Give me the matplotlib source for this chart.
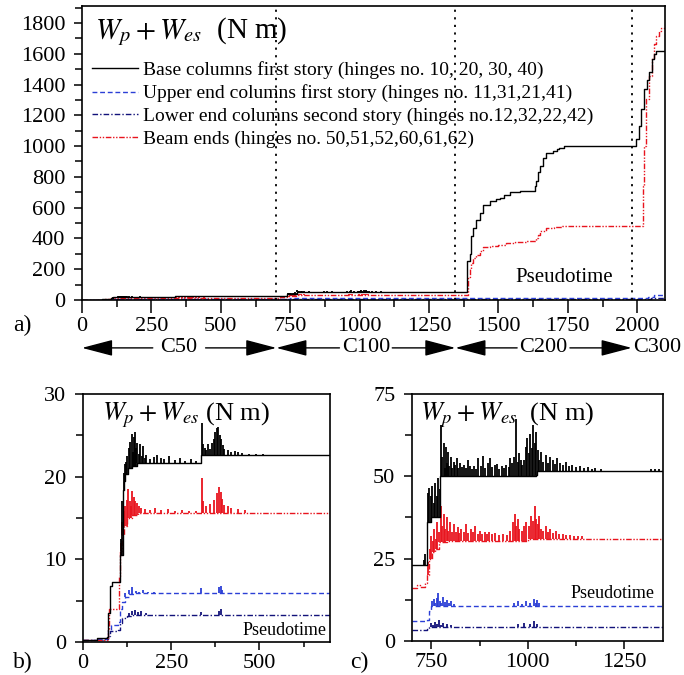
import numpy as np
import matplotlib.pyplot as plt
from matplotlib.ticker import MultipleLocator

plt.rcParams['font.family'] = ['Liberation Serif', 'DejaVu Serif']
plt.rcParams['mathtext.fontset'] = 'stix'

# ---------------- data ----------------
labels = ['Base columns first story (hinges no. 10, 20, 30, 40)',
          'Upper end columns first story (hinges no. 11,31,21,41)',
          'Lower end columns second story (hinges no.12,32,22,42)',
          'Beam ends (hinges no. 50,51,52,60,61,62)']

phase_edges = [0, 700, 1345, 1980]
phase_names = ['C50', 'C100', 'C200', 'C300']

# C50 part (panel b), steps (t, value) and spikes (t, peak)
base_b = [(0, 0.3), (40, 0.5), (68, 0.6), (72, 3.5), (76, 6.8), (82, 7.3), (104, 10.5),
          (113, 18.4), (117, 19.5), (120, 20.3), (128, 21.0), (140, 21.3), (153, 21.7),
          (335, 22.6), (700, 22.6)]
base_b_spk = [(108, 12.5), (112, 17), (115, 20.5), (118, 21.5), (122, 21.8), (126, 22.5),
              (130, 23.5), (134, 24.2), (138, 25.2), (141, 23), (144, 24.8), (147, 25.4),
              (150, 23.5), (154, 24.1), (158, 22.8), (162, 23.9), (166, 22.5), (170, 23.7),
              (175, 22.2), (180, 22.6), (190, 22.1), (200, 22.4), (210, 22.6), (220, 22.3),
              (230, 22.1), (245, 22.5), (260, 22.0), (275, 22.2), (290, 21.9), (305, 22.1),
              (320, 21.9), (336, 26.5), (340, 24.0), (345, 23.5), (350, 23.2), (355, 23.9),
              (360, 23.4), (365, 24.1), (370, 24.5), (375, 25.4), (380, 25.9), (384, 26.0),
              (388, 25.1), (392, 24.5), (396, 23.8), (400, 23.4), (410, 23.2), (420, 23.0),
              (430, 23.1), (440, 23.0), (450, 22.9), (470, 22.8), (490, 22.8), (510, 22.7)]
upper_b = [(0, 0.2), (40, 0.4), (65, 0.5), (72, 1.5), (80, 2.0), (100, 2.4), (104, 4.0),
           (110, 4.8), (120, 5.4), (130, 5.8), (145, 5.9), (700, 5.9)]
upper_b_spk = [(120, 5.9), (130, 6.3), (140, 6.6), (150, 6.2), (160, 6.1), (170, 6.3),
               (185, 6.1), (200, 6.0), (335, 6.5), (385, 6.6), (390, 6.8), (395, 6.3)]
lower_b = [(0, 0.3), (60, 0.4), (70, 0.7), (78, 1.3), (100, 1.5), (105, 2.3), (112, 2.9),
           (125, 3.1), (140, 3.3), (700, 3.3)]
lower_b_spk = [(130, 3.5), (140, 3.8), (148, 3.9), (155, 3.6), (165, 3.7), (180, 3.5),
               (335, 3.6), (385, 3.8), (390, 4.0)]
beam_b = [(0, 0.2), (60, 0.3), (70, 1.5), (74, 4.0), (100, 4.0), (103, 8), (106, 11),
          (110, 13), (115, 14), (125, 15), (140, 15.4), (155, 15.6), (700, 15.6)]
beam_b_spk = [(107, 12), (112, 14.5), (116, 15.8), (120, 16.5), (124, 17.2), (128, 18.5),
              (132, 17.0), (136, 16.5), (140, 18.3), (144, 17.6), (148, 17), (152, 16.8),
              (158, 16.5), (165, 16.2), (175, 16.1), (190, 16.0), (205, 16.2), (220, 16.0),
              (240, 16.1), (260, 15.9), (280, 16.0), (300, 15.9), (320, 15.8), (336, 19.8),
              (340, 17.0), (350, 16.4), (360, 16.7), (370, 17.2), (380, 18.0), (385, 18.7),
              (390, 18.2), (395, 17.3), (400, 16.6), (410, 16.4), (420, 16.2), (440, 16.1),
              (460, 16.0)]

# C100 part (panel c)
base_c = [(700, 23.0), (738, 36), (750, 37.5), (773, 50.0), (1020, 50.3), (1025, 51.5),
          (1350, 51.8)]
base_c_spk = [(730, 24.5), (735, 26.5), (742, 45), (745, 46.5), (748, 44), (752, 47.2),
              (756, 42), (760, 48), (764, 44), (768, 49.5), (772, 46), (776, 65.5), (779, 56),
              (782, 60), (785, 52.5), (788, 59), (791, 54), (794, 57.5), (797, 53), (800, 56),
              (804, 52.5), (808, 54.5), (812, 53.5), (816, 55.5), (820, 52.5), (825, 54),
              (830, 52.8), (835, 53.5), (840, 52.5), (845, 55), (850, 53), (855, 52.3),
              (860, 53.2), (866, 52.2), (872, 55.5), (878, 53), (884, 56.3), (890, 52.5),
              (896, 54), (902, 55.5), (908, 52.8), (914, 53.5), (920, 53.8), (926, 52.3),
              (932, 53), (938, 52.5), (944, 53.4), (950, 52.8), (955, 55.5), (960, 54),
              (965, 56), (970, 67.3), (974, 54.5), (978, 57), (982, 55), (986, 53.5),
              (990, 55), (994, 59), (998, 61.5), (1002, 57), (1006, 63), (1010, 58.5),
              (1014, 65.5), (1018, 60), (1022, 63.5), (1026, 58), (1030, 55), (1034, 57.5),
              (1040, 54.5), (1046, 56.5), (1052, 54), (1058, 56), (1064, 55), (1070, 53.8),
              (1076, 55.5), (1082, 54), (1090, 53.3), (1098, 54.5), (1106, 53), (1115, 53.5),
              (1125, 52.8), (1135, 53), (1145, 52.5), (1155, 52.8), (1165, 52.3), (1175, 52.5),
              (1190, 52.1), (1320, 52.3), (1330, 52.2), (1340, 52.3)]
upper_c = [(700, 6.0), (740, 6.5), (745, 9), (750, 10.5), (1350, 10.3)]
upper_c_spk = [(752, 12), (756, 12.8), (760, 11.5), (764, 13), (768, 14.5), (772, 12.2),
               (776, 11.5), (780, 13.3), (785, 11.8), (790, 12.5), (795, 11.5), (800, 12),
               (808, 11.2), (965, 11.5), (975, 12.2), (985, 11.3), (995, 12), (1005, 11.5),
               (1015, 12.8), (1020, 11.6), (1025, 12.3), (1030, 11.4)]
lower_c = [(700, 3.3), (740, 3.5), (745, 4.2), (1350, 4.2)]
lower_c_spk = [(750, 5.5), (755, 4.8), (760, 5.8), (765, 5.2), (770, 6.3), (775, 5.0),
               (780, 5.6), (790, 5.2), (800, 5.0), (975, 5.2), (990, 5.4), (1005, 5.3),
               (1015, 6.0), (1025, 5.3)]
beam_c = [(700, 16.0), (713, 17.0), (720, 16.5), (735, 17.5), (740, 20), (745, 25), (752, 27),
          (760, 28), (770, 30), (790, 30.5), (1000, 31), (1350, 31.2)]
beam_c_spk = [(742, 24), (746, 28), (750, 32), (754, 30.5), (758, 34), (762, 31), (766, 36),
              (770, 33), (774, 41), (778, 35), (782, 38.5), (786, 34), (790, 37.5), (794, 33.5),
              (798, 36), (803, 33), (808, 35.5), (813, 33), (818, 34.5), (823, 32.8), (828, 34),
              (834, 33), (840, 35.5), (846, 32.8), (852, 34), (858, 33), (864, 34.8),
              (870, 32.6), (876, 33.5), (882, 32.5), (888, 33.2), (894, 32.5), (900, 33),
              (908, 32.4), (916, 32.8), (925, 32.3), (935, 32.6), (945, 32.3), (955, 33.5),
              (962, 36), (966, 38.5), (970, 35), (974, 37), (978, 34), (984, 33.5),
              (990, 34.8), (996, 36), (1002, 35), (1008, 38), (1014, 36.5), (1018, 41),
              (1022, 37), (1026, 35.5), (1030, 38), (1035, 34), (1040, 33.5), (1046, 34.8),
              (1052, 33), (1058, 34), (1064, 32.8), (1072, 33.3), (1080, 32.5), (1090, 32.6),
              (1100, 32.2), (1110, 32.3), (1120, 31.9), (1130, 32), (1140, 31.8)]

# C200 / C300 part (only in panel a)
base_a = [(1350, 52), (1380, 55), (1388, 250), (1396, 300), (1402, 413), (1410, 470),
          (1420, 522), (1432, 567), (1444, 620), (1468, 640), (1490, 655), (1504, 665),
          (1520, 680), (1540, 700), (1560, 703), (1576, 705), (1612, 710), (1630, 740),
          (1636, 770), (1644, 830), (1648, 870), (1660, 920), (1672, 957), (1695, 965),
          (1710, 980), (1720, 990), (1738, 1000), (1985, 1000), (1996, 1043), (2005, 1130),
          (2014, 1240), (2025, 1370), (2035, 1430), (2043, 1480), (2054, 1565), (2060, 1600),
          (2068, 1620), (2100, 1625)]
upper_a = [(1350, 10.3), (1390, 12), (2030, 12), (2040, 22), (2060, 30), (2080, 35), (2100, 33)]
lower_a = [(1350, 4.2), (1390, 6), (2030, 6), (2050, 15), (2100, 20)]
beam_a = [(1350, 31), (1388, 32), (1390, 150), (1396, 200), (1402, 240), (1410, 270),
          (1420, 293), (1432, 320), (1444, 346), (1468, 350), (1500, 360), (1528, 370),
          (1560, 378), (1600, 385), (1636, 400), (1642, 420), (1648, 445), (1672, 467),
          (1700, 473), (1730, 478), (2016, 478), (2020, 738), (2026, 1000), (2032, 1304),
          (2043, 1455), (2054, 1575), (2062, 1660), (2068, 1717), (2078, 1745), (2086, 1765),
          (2100, 1770)]

# ---------------- styles ----------------
styles = [dict(color='black', ls='-'),
          dict(color='#2b3fd6', ls=(0, (3.5, 2))),
          dict(color='#12127a', ls=(0, (4, 1.5, 1, 1.5))),
          dict(color='#e8141e', ls=(0, (4, 1.2, 1, 1.2, 1, 1.2)))]


def draw(ax, steps, spikes, st, lw=1.0, label=None):
    t = np.array([p[0] for p in steps], dtype=float)
    v = np.array([p[1] for p in steps], dtype=float)
    line, = ax.step(t, v, where='post', color=st['color'], ls=st['ls'], lw=lw, label=label)
    if spikes:
        ts = np.array([s[0] for s in spikes], dtype=float)
        pk = np.array([s[1] for s in spikes], dtype=float)
        idx = np.searchsorted(t, ts, side='right') - 1
        ax.vlines(ts, v[idx], pk, color=st['color'], lw=1.3)
    return line


def style_axes(ax, xlen=6):
    for s in ax.spines.values():
        s.set_linewidth(1.2)
    ax.tick_params(axis='both', which='both', direction='out', width=1.1, labelsize=16)
    ax.tick_params(axis='x', which='major', length=xlen, pad=3)
    ax.tick_params(axis='x', which='minor', length=xlen * 0.55)
    ax.tick_params(axis='y', which='major', length=6, pad=6)
    ax.tick_params(axis='y', which='minor', length=5)


fig = plt.figure(figsize=(6.84, 6.75), dpi=100)
ax_a = fig.add_axes([0.1199, 0.5556, 0.8523, 0.4355])
ax_b = fig.add_axes([0.1213, 0.0489, 0.3612, 0.3674])
ax_c = fig.add_axes([0.6023, 0.0504, 0.3670, 0.3659])

parts_b = [(base_b, base_b_spk), (upper_b, upper_b_spk), (lower_b, lower_b_spk), (beam_b, beam_b_spk)]
parts_c = [(base_c, base_c_spk), (upper_c, upper_c_spk), (lower_c, lower_c_spk), (beam_c, beam_c_spk)]
parts_a = [base_a, upper_a, lower_a, beam_a]

order = [2, 1, 3, 0]
handles = [None] * 4
for i in order:
    full = parts_b[i][0] + parts_c[i][0] + parts_a[i]
    handles[i] = draw(ax_a, full, parts_b[i][1] + parts_c[i][1], styles[i], label=labels[i])
    draw(ax_b, parts_b[i][0], parts_b[i][1], styles[i])
    draw(ax_c, parts_c[i][0], parts_c[i][1], styles[i])

# ---- panel a ----
ax_a.set_xlim(0, 2100)
ax_a.set_ylim(0, 1910)
ax_a.xaxis.set_major_locator(MultipleLocator(250))
ax_a.xaxis.set_minor_locator(MultipleLocator(125))
ax_a.yaxis.set_major_locator(MultipleLocator(200))
ax_a.yaxis.set_minor_locator(MultipleLocator(100))
style_axes(ax_a, xlen=9)
for x in phase_edges[1:]:
    ax_a.axvline(x, color='black', lw=1.3, ls=(0, (1.2, 3)))

ax_a.text(0.022, 0.97, r'$W_p + W_{es}$  (N m)', transform=ax_a.transAxes,
          fontsize=21, va='top', ha='left')
ax_a.legend(handles=handles, loc='upper left', bbox_to_anchor=(0.017, 0.812),
            frameon=False, fontsize=14, handlelength=2.37, handletextpad=0.26,
            labelspacing=0.27, borderpad=0, borderaxespad=0)
ax_a.text(0.743, 0.078, 'Pseudotime', transform=ax_a.transAxes, fontsize=15,
          va='center', ha='left')

# phase arrows below the axis
trans = ax_a.get_xaxis_transform()
y_arr = -0.163
arw = dict(arrowstyle='-|>,head_length=1.6,head_width=0.42', color='black', lw=1.0,
           mutation_scale=12, shrinkB=0)
for k in range(3):
    lo, hi = phase_edges[k], phase_edges[k + 1]
    mid = 0.5 * (lo + hi)
    ax_a.text(mid, y_arr, phase_names[k], transform=trans, fontsize=16,
              ha='center', va='center', clip_on=False)
    for tip in (lo, hi):
        ax_a.annotate('', xy=(tip, y_arr), xytext=(mid, y_arr), xycoords=trans,
                      textcoords=trans, arrowprops=dict(arw, shrinkA=19), annotation_clip=False)
ax_a.text(phase_edges[3] + 5, y_arr, phase_names[3], transform=trans, fontsize=16,
          ha='left', va='center', clip_on=False)

# ---- panel b ----
ax_b.set_xlim(0, 700)
ax_b.set_ylim(0, 30)
ax_b.xaxis.set_major_locator(MultipleLocator(250))
ax_b.xaxis.set_minor_locator(MultipleLocator(125))
ax_b.yaxis.set_major_locator(MultipleLocator(10))
ax_b.yaxis.set_minor_locator(MultipleLocator(5))
style_axes(ax_b)
ax_b.text(0.077, 0.975, r'$W_p + W_{es}$ (N m)', transform=ax_b.transAxes,
          fontsize=19, va='top', ha='left')
ax_b.text(0.644, 0.045, 'Pseudotime', transform=ax_b.transAxes, fontsize=13,
          va='center', ha='left')

# ---- panel c ----
ax_c.set_xlim(700, 1350)
ax_c.set_ylim(0, 75)
ax_c.xaxis.set_major_locator(MultipleLocator(250))
ax_c.xaxis.set_minor_locator(MultipleLocator(125))
ax_c.yaxis.set_major_locator(MultipleLocator(25))
ax_c.yaxis.set_minor_locator(MultipleLocator(12.5))
style_axes(ax_c)
ax_c.text(0.03, 0.975, r'$W_p + W_{es}$  (N m)', transform=ax_c.transAxes,
          fontsize=19, va='top', ha='left')
ax_c.text(0.63, 0.194, 'Pseudotime', transform=ax_c.transAxes, fontsize=13,
          va='center', ha='left')

fig.text(0.019, 1 - 325 / 675, 'a)', fontsize=17, va='center', ha='left')
fig.text(0.019, 1 - 662 / 675, 'b)', fontsize=17, va='center', ha='left')
fig.text(0.512, 1 - 662 / 675, 'c)', fontsize=17, va='center', ha='left')

fig.savefig('out.png', dpi=100)
